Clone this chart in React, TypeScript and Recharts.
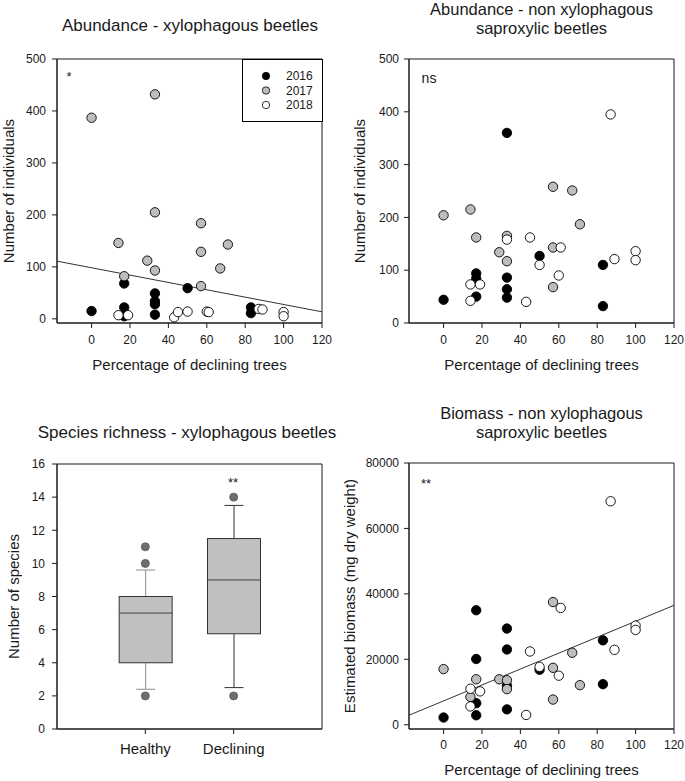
import {
  ScatterChart,
  Scatter,
  ComposedChart,
  Bar,
  XAxis,
  YAxis,
  ReferenceArea,
  ReferenceLine,
  Legend,
} from 'recharts';

const FONT = '"Liberation Sans", Arial, Helvetica, sans-serif';
const INK = '#1a1a1a';

// sampling years and their marker fills
const YEARS = ['2016', '2017', '2018'];
const YEAR_FILLS = ['#000000', '#bdbdbd', '#ffffff'];

// shared x axis (percentage of declining trees)
const PCT_DOMAIN: [number, number] = [-18, 120];
const PCT_TICKS = [0, 20, 40, 60, 80, 100, 120];

type Pt = [number, number];

// Abundance - xylophagous beetles: [pct declining, individuals]
const xyloAbund2016: Pt[] = [[0, 15], [17, 68], [17, 22], [17, 5], [33, 49], [33, 34], [33, 28], [33, 8], [50, 59], [83, 22], [83, 11]];
const xyloAbund2017: Pt[] = [[0, 387], [14, 146], [17, 82], [29, 112], [33, 432], [33, 205], [33, 93], [57, 184], [57, 129], [57, 63], [67, 97], [71, 143]];
const xyloAbund2018: Pt[] = [[14, 7], [19, 7], [43, 3], [45, 13], [50, 14], [60, 14], [61, 13], [87, 19], [89, 18], [100, 13], [100, 5]];
const xyloAbundTrend = [{ x: -18, y: 111 }, { x: 120, y: 13.5 }];
const ABUND_TICKS = [0, 100, 200, 300, 400, 500];

// Abundance - non xylophagous saproxylic beetles
const saproAbund2016: Pt[] = [[0, 44], [17, 94], [17, 84], [17, 50], [33, 360], [33, 86], [33, 64], [33, 48], [50, 127], [83, 110], [83, 32]];
const saproAbund2017: Pt[] = [[0, 204], [14, 215], [17, 162], [29, 134], [33, 165], [33, 117], [57, 258], [57, 143], [57, 68], [67, 251], [71, 187]];
const saproAbund2018: Pt[] = [[14, 73], [14, 42], [19, 73], [33, 158], [43, 40], [45, 162], [50, 110], [60, 90], [61, 143], [87, 395], [89, 121], [100, 136], [100, 119]];

// Biomass - non xylophagous saproxylic beetles (mg dry weight)
const biomass2016: Pt[] = [[0, 2200], [17, 35000], [17, 20100], [17, 6600], [17, 2900], [33, 29400], [33, 23000], [33, 11900], [33, 4700], [50, 16800], [83, 25800], [83, 12400]];
const biomass2017: Pt[] = [[0, 17000], [14, 8500], [17, 13900], [29, 13900], [33, 13600], [33, 10900], [57, 37500], [57, 17400], [57, 7700], [67, 22000], [71, 12100]];
const biomass2018: Pt[] = [[14, 11000], [14, 5600], [19, 10200], [43, 3000], [45, 22400], [50, 17700], [60, 15000], [61, 35700], [87, 68300], [89, 22900], [100, 30300], [100, 29000]];
const biomassTrend = [{ x: -18, y: 2900 }, { x: 120, y: 36500 }];
const BIOMASS_TICKS = [0, 20000, 40000, 60000, 80000];

// Species richness boxplot
const GROUPS = ['Healthy', 'Declining'];
const boxLow = [2.4, 2.5];
const boxQ1 = [4, 5.75];
const boxMedian = [7, 9];
const boxQ3 = [8, 11.5];
const boxHigh = [9.6, 13.5];
const outliers: Pt[] = [[1, 11], [1, 10], [1, 2], [2, 14], [2, 2]];
const RICHNESS_TICKS = [0, 2, 4, 6, 8, 10, 12, 14, 16];
const WHISKER_COLORS = ['#8c8c8c', '#333333'];

const toPts = (a: Pt[]) => a.map(([x, y]) => ({ x, y }));

const tickStyle = { fontSize: 12, fill: INK };
const axisLabelStyle = { fontSize: 15, fill: INK };

const dot = (fill: string) => (p: any) => (
  <circle cx={p.cx} cy={p.cy} r={4.7} fill={fill} stroke="#000" strokeWidth={0.9} />
);

function YearLegend() {
  return (
    <svg width={81} height={63}>
      <rect x={0.5} y={0.5} width={80} height={62} fill="#fff" stroke="#000" strokeWidth={1} />
      {YEARS.map((yr, i) => (
        <g key={yr}>
          <circle cx={24} cy={17 + i * 14.5} r={3.7} fill={YEAR_FILLS[i]} stroke="#000" strokeWidth={0.8} />
          <text x={44} y={17 + i * 14.5 + 4.3} fontSize={12} fill={INK}>{yr}</text>
        </g>
      ))}
    </svg>
  );
}

interface ScatterPanelProps {
  left: number;
  top: number;
  width: number;
  height: number;
  marginTop: number;
  marginRight: number;
  xAxisHeight: number;
  yAxisWidth: number;
  yDomain: [number, number];
  yTicks: number[];
  years: Pt[][];
  trend?: { x: number; y: number }[];
  yLabel: string;
  yLabelOffset: number;
  xLabelOffset: number;
  tickMarginX: number;
  tickMarginY: number;
  legend?: boolean;
}

function ScatterPanel(props: ScatterPanelProps) {
  return (
    <div style={{ position: 'absolute', left: props.left, top: props.top }}>
      <ScatterChart
        width={props.width}
        height={props.height}
        margin={{ top: props.marginTop, right: props.marginRight, bottom: 0, left: 0 }}
      >
        <XAxis
          type="number"
          dataKey="x"
          domain={PCT_DOMAIN}
          ticks={PCT_TICKS}
          allowDataOverflow
          height={props.xAxisHeight}
          tickSize={5}
          tickMargin={props.tickMarginX}
          tick={tickStyle}
          stroke={INK}
          label={{ value: 'Percentage of declining trees', position: 'insideBottom', offset: props.xLabelOffset, style: axisLabelStyle }}
        />
        <YAxis
          type="number"
          dataKey="y"
          domain={props.yDomain}
          ticks={props.yTicks}
          allowDataOverflow
          width={props.yAxisWidth}
          tickSize={5}
          tickMargin={props.tickMarginY}
          tick={tickStyle}
          stroke={INK}
          label={{ value: props.yLabel, angle: -90, position: 'insideLeft', offset: props.yLabelOffset, style: { ...axisLabelStyle, textAnchor: 'middle' } }}
        />
        <ReferenceArea
          x1={PCT_DOMAIN[0]}
          x2={PCT_DOMAIN[1]}
          y1={props.yDomain[0]}
          y2={props.yDomain[1]}
          fill="none"
          stroke={INK}
          strokeWidth={1}
        />
        {props.trend && (
          <ReferenceLine segment={props.trend} stroke="#333" strokeWidth={1} />
        )}
        {props.years.map((pts, i) => (
          <Scatter
            key={YEARS[i]}
            name={YEARS[i]}
            data={toPts(pts)}
            fill={YEAR_FILLS[i]}
            shape={dot(YEAR_FILLS[i])}
            isAnimationActive={false}
          />
        ))}
        {props.legend && (
          <Legend
            layout="vertical"
            align="center"
            verticalAlign="middle"
            wrapperStyle={{ left: 242, top: 59, width: 81, height: 63 }}
            content={() => <YearLegend />}
          />
        )}
      </ScatterChart>
    </div>
  );
}

const BoxShape = (p: any) => {
  const d = p.payload;
  const top = Math.min(p.y, p.y + p.height);
  const bottom = Math.max(p.y, p.y + p.height);
  const per = (bottom - top) / (d.high - d.low);
  const py = (v: number) => bottom - (v - d.low) * per;
  const cx = p.x + p.width / 2;
  const wc = WHISKER_COLORS[d.x - 1];
  return (
    <g>
      <line x1={cx} x2={cx} y1={py(d.high)} y2={py(d.q3)} stroke={wc} />
      <line x1={cx} x2={cx} y1={py(d.q1)} y2={py(d.low)} stroke={wc} />
      <line x1={cx - 9.5} x2={cx + 9.5} y1={py(d.high)} y2={py(d.high)} stroke={wc} />
      <line x1={cx - 9.5} x2={cx + 9.5} y1={py(d.low)} y2={py(d.low)} stroke={wc} />
      <rect x={p.x} y={py(d.q3)} width={p.width} height={py(d.q1) - py(d.q3)} fill="#c0c0c0" stroke="#333" />
      <line x1={p.x} x2={p.x + p.width} y1={py(d.median)} y2={py(d.median)} stroke="#444" />
    </g>
  );
};

function RichnessPanel() {
  const rows = GROUPS.map((g, i) => ({
    x: i + 1,
    name: g,
    low: boxLow[i],
    q1: boxQ1[i],
    median: boxMedian[i],
    q3: boxQ3[i],
    high: boxHigh[i],
  }));
  return (
    <div style={{ position: 'absolute', left: 0, top: 400 }}>
      <ComposedChart width={340} height={381} data={rows} margin={{ top: 64, right: 18, bottom: 0, left: 0 }}>
        <XAxis
          type="number"
          dataKey="x"
          domain={[0, 3]}
          ticks={[1, 2]}
          allowDataOverflow
          height={52}
          tickSize={5}
          tickMargin={9}
          tickFormatter={(v: number) => GROUPS[v - 1]}
          tick={{ fontSize: 15, fill: INK }}
          stroke={INK}
        />
        <YAxis
          type="number"
          dataKey="y"
          domain={[0, 16]}
          ticks={RICHNESS_TICKS}
          allowDataOverflow
          width={57}
          tickSize={5}
          tickMargin={7}
          tick={tickStyle}
          stroke={INK}
          label={{ value: 'Number of species', angle: -90, position: 'insideLeft', offset: 14, style: { ...axisLabelStyle, textAnchor: 'middle' } }}
        />
        <ReferenceArea x1={0} x2={3} y1={0} y2={16} fill="none" stroke={INK} strokeWidth={1} />
        <Bar
          dataKey={(d: any) => [d.low, d.high]}
          barSize={53}
          shape={BoxShape}
          isAnimationActive={false}
        />
        <Scatter
          data={toPts(outliers)}
          shape={(p: any) => <circle cx={p.cx} cy={p.cy} r={4} fill="#6e6e6e" stroke="#555" strokeWidth={0.8} />}
          isAnimationActive={false}
        />
      </ComposedChart>
    </div>
  );
}

export default function App() {
  return (
    <div
      style={{
        position: 'absolute',
        left: 0,
        top: 0,
        width: 685,
        height: 781,
        overflow: 'hidden',
        background: '#fff',
        fontFamily: FONT,
      }}
    >
      <ScatterPanel
        left={0}
        top={0}
        width={340}
        height={390}
        marginTop={59}
        marginRight={18}
        xAxisHeight={67}
        yAxisWidth={57}
        yDomain={[-8, 500]}
        yTicks={ABUND_TICKS}
        years={[xyloAbund2016, xyloAbund2017, xyloAbund2018]}
        trend={xyloAbundTrend}
        yLabel="Number of individuals"
        yLabelOffset={9}
        xLabelOffset={20}
        tickMarginX={7}
        tickMarginY={6}
        legend
      />
      <ScatterPanel
        left={340}
        top={0}
        width={345}
        height={390}
        marginTop={59}
        marginRight={11}
        xAxisHeight={67}
        yAxisWidth={69}
        yDomain={[0, 500]}
        yTicks={ABUND_TICKS}
        years={[saproAbund2016, saproAbund2017, saproAbund2018]}
        yLabel="Number of individuals"
        yLabelOffset={20}
        xLabelOffset={20}
        tickMarginX={7}
        tickMarginY={5}
      />
      <RichnessPanel />
      <ScatterPanel
        left={340}
        top={400}
        width={345}
        height={381}
        marginTop={63}
        marginRight={11}
        xAxisHeight={52}
        yAxisWidth={69}
        yDomain={[-1300, 80000]}
        yTicks={BIOMASS_TICKS}
        years={[biomass2016, biomass2017, biomass2018]}
        trend={biomassTrend}
        yLabel="Estimated biomass (mg dry weight)"
        yLabelOffset={10}
        xLabelOffset={6}
        tickMarginX={6}
        tickMarginY={5}
      />
      <svg
        width={685}
        height={781}
        style={{ position: 'absolute', left: 0, top: 0, pointerEvents: 'none' }}
        fontFamily={FONT}
        fill={INK}
      >
        <text x={190} y={31} fontSize={17} textAnchor="middle">Abundance - xylophagous beetles</text>
        <text x={541.5} y={15} fontSize={16.5} textAnchor="middle">
          <tspan x={541.5}>Abundance - non xylophagous</tspan>
          <tspan x={541.5} dy={18.6}>saproxylic beetles</tspan>
        </text>
        <text x={187} y={438} fontSize={17} textAnchor="middle">Species richness - xylophagous beetles</text>
        <text x={541.5} y={419} fontSize={16.5} textAnchor="middle">
          <tspan x={541.5}>Biomass - non xylophagous</tspan>
          <tspan x={541.5} dy={18.6}>saproxylic beetles</tspan>
        </text>
        <text x={69} y={81} fontSize={13} textAnchor="middle">*</text>
        <text x={429} y={83} fontSize={14} textAnchor="middle">ns</text>
        <text x={233} y={487} fontSize={13} textAnchor="middle">**</text>
        <text x={426} y={488} fontSize={13} textAnchor="middle">**</text>
      </svg>
    </div>
  );
}
